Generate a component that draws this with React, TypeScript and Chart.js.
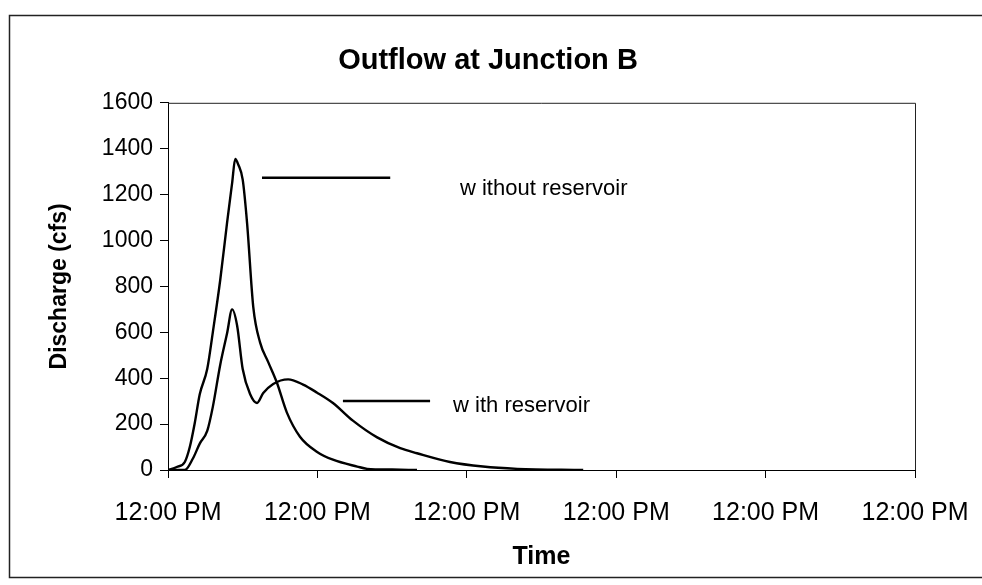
import React, { useEffect, useRef } from "react";
import { Chart, registerables } from "chart.js";

Chart.register(...registerables);

const TITLE = "Outflow at Junction B";
const Y_TITLE = "Discharge (cfs)";
const X_TITLE = "Time";

// x axis: hours from the start; each tick is one day later, all labelled 12:00 PM
const X_TICK_LABELS = ["12:00 PM", "12:00 PM", "12:00 PM", "12:00 PM", "12:00 PM", "12:00 PM"];
const X_MIN = 0;
const X_MAX = 120;
const X_STEP = 24;
const Y_MIN = 0;
const Y_MAX = 1600;
const Y_STEP = 200;

const withoutHours = [0, 1.4, 2.7, 3.5, 4.3, 5.1, 6.3, 7.2, 8.4, 9.5, 10.3, 10.8, 11.3, 12.0, 12.7, 13.7, 14.8, 16.1, 17.5, 19.1, 21.2, 23.9, 26.5, 30.4, 32, 36, 40];
const withoutFlow = [0, 13, 35, 100, 205, 330, 440, 600, 830, 1080, 1250, 1355, 1330, 1265, 1077, 710, 555, 470, 380, 250, 145, 80, 45, 15, 5, 2, 0];

const withHours = [0, 2.7, 4.0, 5.1, 6.3, 7.2, 8.4, 9.5, 10.3, 11.1, 12.0, 13.2, 14.3, 15.3, 16.9, 19.3, 21.7, 23.9, 26.5, 29.7, 33.6, 37.3, 40.0, 45.3, 50.6, 56.1, 66.7];
const withFlow = [0, 0, 50, 115, 170, 275, 460, 597, 700, 630, 440, 330, 292, 335, 375, 395, 372, 338, 292, 215, 142, 95, 73, 35, 15, 5, 0];

const SERIES_NAMES = ["without reservoir", "with reservoir"];
const ANNOT_LABELS = ["w ithout reservoir", "w ith reservoir"];

// annotation placement (in axis units)
const ANNOT = [
  { lineFrom: 15.1, lineTo: 35.7, lineQ: 1273, textAt: 46.9, textQ: 1199 },
  { lineFrom: 28.1, lineTo: 42.1, lineQ: 301, textAt: 45.8, textQ: 253 },
];

const FONT = "'Liberation Sans', Arial, Helvetica, sans-serif";

const framePlugin = {
  id: "frame",
  beforeDraw(chart: any) {
    const { ctx, width, height } = chart;
    ctx.save();
    ctx.fillStyle = "#fff";
    ctx.fillRect(0, 0, width, height);
    ctx.strokeStyle = "#222";
    ctx.lineWidth = 1.5;
    ctx.beginPath();
    ctx.moveTo(982, 15.5);
    ctx.lineTo(9.5, 15.5);
    ctx.lineTo(9.5, 577.5);
    ctx.lineTo(982, 577.5);
    ctx.stroke();
    ctx.restore();
  },
  afterDraw(chart: any) {
    const { ctx, chartArea } = chart;
    ctx.save();
    ctx.strokeStyle = "#222";
    ctx.lineWidth = 1;
    ctx.beginPath();
    ctx.moveTo(chartArea.left, chartArea.top + 0.5);
    ctx.lineTo(chartArea.right + 0.5, chartArea.top + 0.5);
    ctx.lineTo(chartArea.right + 0.5, chartArea.bottom);
    ctx.stroke();
    ctx.restore();
  },
};

const annotPlugin = {
  id: "annot",
  afterDatasetsDraw(chart: any) {
    const { ctx } = chart;
    const x = chart.scales.x;
    const y = chart.scales.y;
    ctx.save();
    ctx.strokeStyle = "#000";
    ctx.lineWidth = 2.5;
    ctx.fillStyle = "#000";
    ctx.font = `22px ${FONT}`;
    ctx.textBaseline = "alphabetic";
    ctx.textAlign = "left";
    ANNOT.forEach((a, i) => {
      const py = y.getPixelForValue(a.lineQ);
      ctx.beginPath();
      ctx.moveTo(x.getPixelForValue(a.lineFrom), py);
      ctx.lineTo(x.getPixelForValue(a.lineTo), py);
      ctx.stroke();
      ctx.fillText(ANNOT_LABELS[i], x.getPixelForValue(a.textAt), y.getPixelForValue(a.textQ));
    });
    ctx.restore();
  },
};

export default function App() {
  const ref = useRef<HTMLCanvasElement | null>(null);

  useEffect(() => {
    if (!ref.current) return;
    const toPts = (xs: number[], ys: number[]) => xs.map((h, i) => ({ x: h, y: ys[i] }));
    const chart = new Chart(ref.current, {
      type: "line",
      data: {
        datasets: [
          {
            label: SERIES_NAMES[0],
            data: toPts(withoutHours, withoutFlow),
            borderColor: "#000",
            borderWidth: 2.4,
            pointRadius: 0,
            cubicInterpolationMode: "monotone",
            fill: false,
          },
          {
            label: SERIES_NAMES[1],
            data: toPts(withHours, withFlow),
            borderColor: "#000",
            borderWidth: 2.4,
            pointRadius: 0,
            cubicInterpolationMode: "monotone",
            fill: false,
          },
        ],
      },
      options: {
        responsive: false,
        animation: false,
        events: [],
        layout: { padding: { top: 17, left: 61, right: 67, bottom: 8 } },
        plugins: {
          legend: { display: false },
          tooltip: { enabled: false },
          title: {
            display: true,
            text: TITLE,
            color: "#000",
            font: { family: FONT, size: 29, weight: "bold" },
            padding: { top: 27, bottom: 24 },
          },
        },
        scales: {
          x: {
            type: "linear",
            min: X_MIN,
            max: X_MAX,
            ticks: {
              stepSize: X_STEP,
              color: "#000",
              font: { family: FONT, size: 25 },
              padding: 20,
              maxRotation: 0,
              autoSkip: false,
              callback: (_v: any, i: number) => X_TICK_LABELS[i],
            },
            grid: { drawOnChartArea: false, drawTicks: true, tickLength: 8, color: "#000", tickColor: "#000" },
            border: { display: true, color: "#000", width: 1 },
            title: {
              display: true,
              text: X_TITLE,
              color: "#000",
              font: { family: FONT, size: 25, weight: "bold" },
              padding: { top: 0, bottom: 5 },
            },
            afterFit: (s: any) => {
              s.height = 107;
              s.paddingLeft = 0;
              s.paddingRight = 55;
            },
          },
          y: {
            min: Y_MIN,
            max: Y_MAX,
            ticks: {
              stepSize: Y_STEP,
              color: "#000",
              font: { family: FONT, size: 23 },
              padding: 7,
              callback: (v: any) => String(v),
            },
            grid: { drawOnChartArea: false, drawTicks: true, tickLength: 8, color: "#000", tickColor: "#000" },
            border: { display: true, color: "#000", width: 1 },
            title: {
              display: true,
              text: Y_TITLE,
              color: "#000",
              font: { family: FONT, size: 23, weight: "bold" },
              padding: { top: -15, bottom: 0 },
            },
            afterFit: (s: any) => {
              s.width = 107;
            },
          },
        },
      },
      plugins: [framePlugin, annotPlugin],
    } as any);
    return () => chart.destroy();
  }, []);

  return (
    <div style={{ position: "fixed", left: 0, top: 0, width: 982, height: 585, background: "#fff" }}>
      <canvas ref={ref} width={982} height={585} style={{ display: "block", width: 982, height: 585 }} />
    </div>
  );
}
